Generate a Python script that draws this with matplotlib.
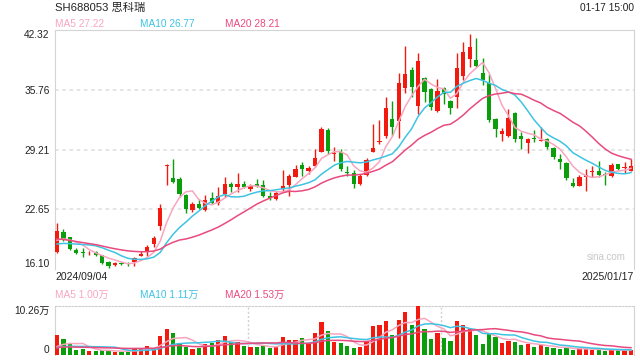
import numpy as np
import pandas as pd
import matplotlib
matplotlib.use("Agg")
from matplotlib import pyplot as plt

plt.rcParams['font.family'] = ['Liberation Sans', 'Noto Sans CJK SC', 'DejaVu Sans']

# daily k-line, 2024/09/04 .. 2025/01/17
opens = [17.96, 20.16, 19.58, 18.18, 17.96, 17.70, 17.96, 17.60, 16.87, 16.50,
         16.72, 16.70, 16.83, 17.53, 17.93, 18.81, 20.85, 27.43, 26.12, 25.97,
         24.22, 22.57, 23.23, 22.57, 23.86, 23.31, 24.30, 25.43, 25.06, 25.43,
         24.88, 25.43, 25.28, 24.14, 23.83, 24.84, 25.32, 26.23, 27.51, 26.88,
         27.40, 28.97, 31.35, 28.68, 28.90, 26.72, 26.60, 25.43, 26.41, 28.97,
         30.05, 30.69, 32.56, 32.37, 35.92, 37.93, 34.00, 37.02, 35.81, 33.43,
         35.92, 34.53, 35.00, 37.31, 39.11, 39.03, 37.57, 36.47, 32.56, 30.88,
         30.72, 33.18, 30.66, 29.96, 30.45, 30.15, 30.33, 29.34, 28.17, 27.76,
         25.53, 25.24, 26.16, 26.75, 26.88, 26.45, 26.30, 27.62, 27.20, 26.85]
highs = [21.18, 20.45, 19.65, 18.44, 18.37, 18.04, 18.11, 17.67, 16.95, 16.87,
         16.87, 16.92, 17.45, 18.04, 18.70, 19.71, 23.23, 27.60, 28.13, 26.16,
         24.30, 23.40, 23.75, 24.22, 24.58, 25.06, 26.19, 25.65, 26.60, 25.70,
         25.40, 26.00, 25.85, 24.60, 24.65, 26.96, 26.52, 27.48, 27.87, 27.40,
         29.27, 31.68, 31.60, 29.52, 29.30, 27.40, 27.00, 26.50, 28.28, 32.00,
         32.50, 35.00, 34.53, 37.57, 40.57, 38.30, 39.76, 37.20, 35.92, 36.95,
         36.10, 34.65, 39.76, 40.97, 41.88, 41.41, 39.20, 37.46, 32.70, 31.60,
         33.65, 33.30, 31.16, 30.45, 31.35, 31.65, 30.50, 29.52, 28.72, 27.85,
         26.05, 26.45, 27.10, 27.40, 27.95, 26.77, 27.70, 27.65, 27.87, 28.13]
lows = [17.90, 19.17, 18.19, 17.74, 17.38, 17.67, 17.56, 16.60, 16.21, 16.43,
        16.50, 16.45, 16.43, 17.49, 17.50, 18.47, 20.38, 25.32, 25.50, 24.03,
        22.20, 22.30, 22.70, 22.50, 23.23, 23.09, 24.03, 24.58, 24.58, 24.95,
        24.70, 25.10, 23.98, 23.70, 23.70, 24.70, 24.14, 26.15, 26.30, 26.50,
        27.30, 28.90, 28.70, 27.98, 26.85, 26.30, 24.95, 25.30, 26.25, 28.97,
        29.78, 30.44, 30.69, 30.44, 35.37, 35.00, 33.07, 34.45, 33.50, 33.35,
        34.17, 33.07, 33.80, 36.84, 38.30, 38.30, 36.30, 32.20, 30.60, 30.17,
        30.60, 30.03, 29.23, 28.86, 30.07, 30.10, 29.30, 28.22, 27.07, 25.86,
        25.06, 25.20, 24.65, 26.16, 26.16, 25.30, 26.20, 27.00, 26.66, 26.80]
closes = [20.30, 19.39, 18.26, 17.89, 17.82, 17.76, 17.63, 16.79, 16.43, 16.79,
          16.68, 16.66, 17.27, 17.71, 18.48, 19.53, 22.76, 27.54, 25.61, 24.30,
          22.65, 23.23, 22.76, 23.67, 23.37, 24.14, 25.43, 25.06, 25.43, 25.06,
          25.21, 25.24, 24.14, 23.86, 24.40, 25.21, 26.30, 27.04, 27.07, 27.21,
          28.31, 31.46, 29.08, 28.86, 27.04, 26.66, 25.46, 26.30, 28.06, 29.41,
          30.16, 33.80, 31.65, 36.54, 37.49, 36.10, 38.92, 35.55, 33.90, 35.63,
          35.26, 33.80, 38.18, 39.94, 40.42, 38.40, 36.84, 32.45, 31.43, 31.24,
          32.63, 30.33, 30.40, 30.33, 30.40, 30.22, 29.45, 28.35, 27.81, 26.05,
          25.24, 26.16, 26.41, 26.85, 26.41, 26.40, 27.50, 27.07, 27.30, 27.45]
# volume, 万
volumes = [4.19, 3.35, 2.24, 1.05, 1.26, 0.84, 0.84, 0.98, 0.90, 0.70,
           0.70, 0.70, 1.26, 1.40, 1.88, 1.32, 3.98, 5.44, 4.67, 2.45,
           1.74, 1.26, 1.53, 2.30, 2.58, 3.14, 3.98, 2.79, 2.79, 1.88,
           1.74, 1.74, 1.88, 1.53, 1.74, 3.84, 3.14, 3.14, 3.49, 2.45,
           4.67, 6.98, 5.02, 2.79, 2.58, 1.88, 1.53, 1.67, 2.79, 6.07,
           6.28, 7.12, 4.19, 7.33, 9.07, 6.28, 10.26, 5.44, 3.35, 4.67,
           3.63, 3.00, 7.12, 6.28, 5.37, 4.19, 2.30, 4.40, 3.84, 2.58,
           2.93, 2.79, 2.09, 2.30, 1.67, 2.09, 1.67, 1.47, 1.26, 1.53,
           1.10, 1.26, 1.26, 1.05, 1.19, 0.90, 1.05, 0.95, 0.95, 1.10]
# sessions before the window, only used to warm up the moving averages
prev_closes = [20.6, 20.4, 20.3, 20.1, 20.0, 19.9, 19.8, 19.7, 19.6, 19.2,
               18.7, 18.5, 18.4, 18.3, 18.2, 18.6, 18.9, 19.2, 19.3]
prev_volumes = [1.8, 1.7, 1.9, 1.6, 1.5, 1.7, 1.6, 1.4, 1.5, 1.6,
                1.3, 1.2, 1.4, 1.3, 1.2, 1.1, 1.3, 1.2, 1.1]

price_ticks = [16.10, 22.65, 29.21, 35.76, 42.32]
start_date = "2024/09/04"
end_date = "2025/01/17"

UP = "#f2190f"
DOWN = "#0b9e0b"
MA_COLORS = {5: "#f8a6c0", 10: "#3ec4e2", 20: "#e94a7d"}
GRID = "#e3e3e3"
BORDER = "#d4d4d4"
TXT = "#222222"

n = len(closes)
x = np.arange(n)
o, h, l, c = map(np.array, (opens, highs, lows, closes))
up = c >= o
cols = np.where(up, UP, DOWN)

all_c = pd.Series(prev_closes + closes)
all_v = pd.Series(prev_volumes + volumes)
k = len(prev_closes)

W, H = 640, 360
fig = plt.figure(figsize=(6.4, 3.6), dpi=100)

def box(x0, y0, x1, y1):
    return [x0 / W, 1 - y1 / H, (x1 - x0) / W, (y1 - y0) / H]

xl = (-0.31, n - 1 + 0.47)

# ---- price panel
ax = fig.add_axes(box(55, 30, 634, 269))
ax.set_xlim(*xl)
ax.set_ylim(price_ticks[0], price_ticks[-1])
for t in price_ticks[1:-1]:
    ax.axhline(t, color=GRID, lw=1.3, ls=(0, (2, 2)), zorder=0)
ax.vlines(x, l, h, colors=cols, lw=1, zorder=2)
body = np.maximum(np.abs(c - o), 0.07)
ax.bar(x, body, bottom=np.minimum(o, c), width=0.66, color=cols,
       edgecolor=cols, lw=0, zorder=3)
for w in (5, 10, 20):
    ma = all_c.rolling(w).mean().values[k:]
    ax.plot(x, ma, color=MA_COLORS[w], lw=1.1, zorder=4)

ax.set_xticks([])
ax.set_yticks(price_ticks)
ax.set_yticklabels([f"{t:.2f}" for t in price_ticks], fontsize=7.3, color=TXT)
labs = ax.get_yticklabels()
labs[0].set_va("bottom")
labs[-1].set_va("top")
ax.tick_params(axis="y", length=0, pad=4)
for s in ("top", "left", "right"):
    ax.spines[s].set_color(BORDER)
ax.spines["bottom"].set_visible(False)
ax.text(0.985, 0.03, "sina.com", transform=ax.transAxes, ha="right",
        va="bottom", fontsize=7, color="#c8c8c8")

# ---- volume panel
av = fig.add_axes(box(55, 306, 634, 355))
av.set_xlim(*xl)
vmax = max(volumes)
av.set_ylim(0, vmax)
av.bar(x, volumes, width=0.66, color=cols, lw=0, zorder=3)
for w in (5, 10, 20):
    ma = all_v.rolling(w).mean().values[k:]
    av.plot(x, ma, color=MA_COLORS[w], lw=1.1, zorder=4)
for f in (1 / 3, 2 / 3):
    av.axvline(xl[0] + f * (xl[1] - xl[0]), color="#d0d0d0", lw=1,
               ls=(0, (1.5, 1.5)), zorder=0)
av.set_xticks([])
av.set_yticks([0, vmax])
av.set_yticklabels(["0", f"{vmax:.2f}万"], fontsize=7.3, color=TXT)
vl = av.get_yticklabels()
vl[0].set_va("bottom")
vl[1].set_va("top")
av.tick_params(axis="y", length=0, pad=4)
av.spines["top"].set_color("#cfcfcf")
av.spines["top"].set_linestyle((0, (1.5, 1.5)))
av.spines["left"].set_color(BORDER)
av.spines["right"].set_color(BORDER)
av.spines["bottom"].set_visible(False)

# ---- header texts
def ftext(px, py, s, **kw):
    kw.setdefault("fontsize", 7.3)
    kw.setdefault("color", TXT)
    fig.text(px / W, 1 - py / H, s, va="center", **kw)

ftext(55, 8, "SH688053 思科瑞", fontsize=8.1)
ftext(634, 8, "01-17 15:00", ha="right")
ftext(55, 24, "MA5 27.22", color=MA_COLORS[5])
ftext(140, 24, "MA10 26.77", color=MA_COLORS[10])
ftext(225, 24, "MA20 28.21", color=MA_COLORS[20])
ftext(55, 277, start_date, fontsize=7.5)
ftext(634, 277, end_date, fontsize=7.5, ha="right")
ftext(55, 295, "MA5 1.00万", color=MA_COLORS[5])
ftext(140, 295, "MA10 1.11万", color=MA_COLORS[10])
ftext(225, 295, "MA20 1.53万", color=MA_COLORS[20])

fig.savefig("out.png", dpi=100)
